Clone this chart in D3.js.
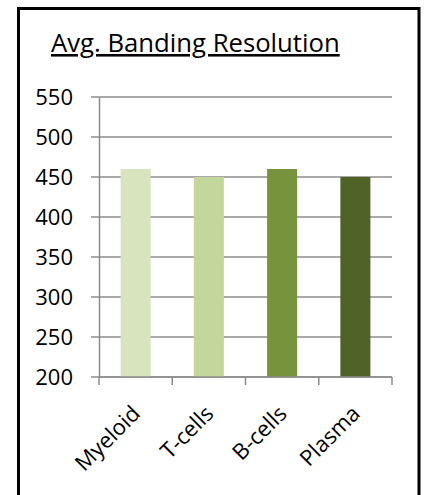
<!DOCTYPE html>
<html><head><meta charset="utf-8">
<script src="https://cdn.jsdelivr.net/npm/d3@7"></script>
<style>
html,body{margin:0;padding:0;background:#fff;}
svg{display:block;}
text{font-family:"Open Sans", sans-serif;fill:#000;font-variant-ligatures:none;}
</style></head>
<body>
<script>
const categories = ["Myeloid", "T-cells", "B-cells", "Plasma"];
const values = [460, 450, 460, 450];
const colors = ["#D7E4BD", "#C3D69B", "#77933C", "#4F6228"];
const yTicks = [200, 250, 300, 350, 400, 450, 500, 550];
const title = "Avg. Banding Resolution";

const W = 425, H = 495;
const svg = d3.select("body").append("svg").attr("width", W).attr("height", H);

svg.append("rect").attr("x", 18.5).attr("y", 8.5).attr("width", 400.5).attr("height", 500)
  .attr("fill", "#fff").attr("stroke", "#000").attr("stroke-width", 3);

const x = d3.scaleBand().domain(categories).range([99, 392]).paddingInner(0.59).paddingOuter(0.295);
const y = d3.scaleLinear().domain([200, 550]).range([377, 97]);

// gridlines
svg.append("g").selectAll("line").data(yTicks).join("line")
  .attr("x1", 91).attr("x2", 392)
  .attr("y1", d => y(d)).attr("y2", d => y(d))
  .attr("stroke", "#8c8c8c").attr("stroke-width", 1.5);

// bars
svg.append("g").selectAll("rect").data(values).join("rect")
  .attr("x", (d, i) => x(categories[i]))
  .attr("width", x.bandwidth())
  .attr("y", d => y(d))
  .attr("height", d => y(200) - y(d))
  .attr("fill", (d, i) => colors[i]);

// y axis
const yAxis = d3.axisLeft(y).tickValues(yTicks).tickSize(0).tickPadding(26);
const gy = svg.append("g").attr("transform", "translate(99,0)").call(yAxis);
gy.select(".domain").attr("stroke", "#8c8c8c").attr("stroke-width", 1.5);
gy.selectAll("text").attr("font-size", 22).attr("fill", "#000")
  .style("font-family", "'Open Sans', sans-serif");

// x axis
const xEdges = d3.scaleLinear().domain([0, categories.length]).range([99, 392]);
svg.append("line").attr("x1", 99).attr("x2", 392).attr("y1", y(200)).attr("y2", y(200))
  .attr("stroke", "#8c8c8c").attr("stroke-width", 1.5);
svg.append("g").selectAll("line").data(d3.range(categories.length + 1)).join("line")
  .attr("x1", d => xEdges(d)).attr("x2", d => xEdges(d))
  .attr("y1", y(200)).attr("y2", y(200) + 8)
  .attr("stroke", "#8c8c8c").attr("stroke-width", 1.5);

svg.append("g").selectAll("text").data(categories).join("text")
  .attr("transform", d => `translate(${x(d) + x.bandwidth() / 2 + 6},${y(200) + 38}) rotate(-45)`)
  .attr("text-anchor", "end")
  .attr("font-size", 22)
  .text(d => d);

// title
svg.append("text").attr("x", 51).attr("y", 52).attr("font-size", 25.7)
  .attr("text-decoration", "underline").text(title);
</script>
</body></html>
